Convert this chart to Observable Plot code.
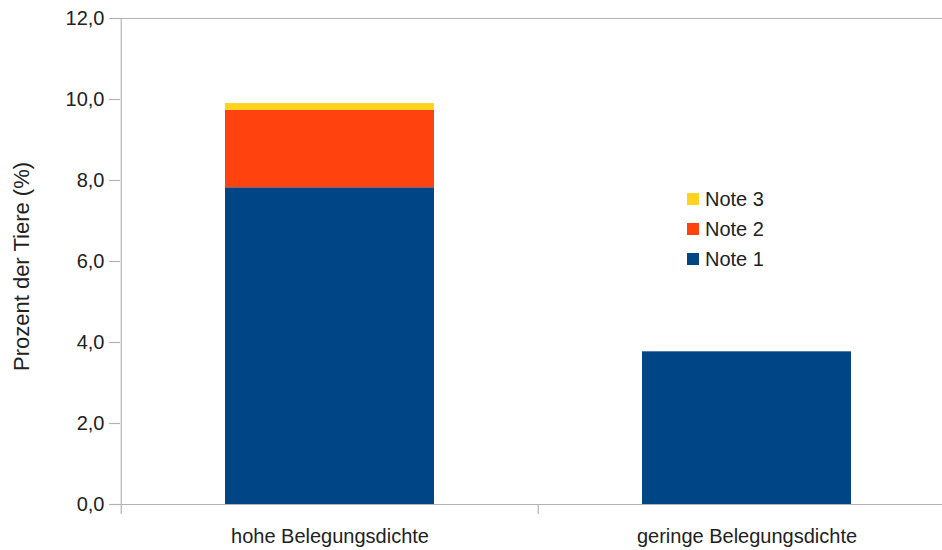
<!DOCTYPE html>
<html>
<head>
<meta charset="utf-8">
<script src="https://cdn.jsdelivr.net/npm/d3@7"></script>
<script src="https://cdn.jsdelivr.net/npm/@observablehq/plot@0.6"></script>
<style>
  html, body { margin: 0; padding: 0; background: #fff; overflow: hidden; }
  #wrap { position: relative; width: 942px; height: 550px; font-family: "Liberation Sans", Arial, sans-serif; }
  #legend { position: absolute; left: 687px; top: 184px; font-size: 20px; color: #222; line-height: 30px; }
  #legend .row { display: flex; align-items: center; }
  #legend .sw { width: 12px; height: 12px; margin-right: 6px; }
</style>
</head>
<body>
<div id="wrap"></div>
<script>
const groups = ["hohe Belegungsdichte", "geringe Belegungsdichte"];
const notes = ["Note 1", "Note 2", "Note 3"];
const note1 = [7.82, 3.77];
const note2 = [1.91, 0];
const note3 = [0.17, 0];
const colors = ["#004586", "#ff420e", "#ffd320"];
const yTicks = [0, 2, 4, 6, 8, 10, 12];

const series = [note1, note2, note3];
const data = [];
groups.forEach((g, i) => notes.forEach((n, j) => data.push({group: g, note: n, value: series[j][i]})));

const W = 942, H = 550, mL = 120, mT = 18, mB = 46;
const xRange = [mL, 955];
const step = (xRange[1] - xRange[0]) / groups.length;
const plotH = H - mT - mB;
const lineColor = "#b3b3b3";
const textColor = "#222";

const chart = Plot.plot({
  width: W,
  height: H,
  marginLeft: mL,
  marginTop: mT,
  marginBottom: mB,
  marginRight: 0,
  style: {fontFamily: "Liberation Sans, Arial, sans-serif", background: "white", overflow: "hidden"},
  x: {domain: groups, range: xRange, paddingInner: 0.5, paddingOuter: 0.25, label: null},
  y: {domain: [0, 12], label: null},
  color: {domain: notes, range: colors},
  marks: [
    Plot.barY(data, {x: "group", y: "value", fill: "note", order: notes}),
    Plot.ruleY([0, 12], {stroke: lineColor, strokeWidth: 1.2}),
    Plot.ruleX([groups[0]], {x: d => d, dx: -step / 2, stroke: lineColor, strokeWidth: 1.2, insetBottom: -10}),
    Plot.ruleX(groups.slice(1), {x: d => d, dx: -step / 2, stroke: lineColor, strokeWidth: 1.2, insetTop: plotH, insetBottom: -10}),
    Plot.axisY({ticks: yTicks, tickFormat: d => d.toFixed(1).replace(".", ","), tickSize: 11, tickPadding: 5,
      fontSize: 20, color: textColor, stroke: lineColor, strokeWidth: 1.2,
      label: "Prozent der Tiere (%)", labelAnchor: "center", labelArrow: "none", labelOffset: 107}),
    Plot.axisX({tickSize: 0, tickPadding: 24, fontSize: 20, color: textColor, label: null})
  ]
});

chart.querySelectorAll("text").forEach(t => {
  if (t.textContent === "Prozent der Tiere (%)") {
    t.setAttribute("font-size", 22);
    t.style.fontSize = "22px";
    t.setAttribute("transform", "translate(0,5) " + (t.getAttribute("transform") || ""));
  }
});

const wrap = document.getElementById("wrap");
wrap.appendChild(chart);

const legend = document.createElement("div");
legend.id = "legend";
notes.slice().reverse().forEach(n => {
  const row = document.createElement("div");
  row.className = "row";
  const sw = document.createElement("span");
  sw.className = "sw";
  sw.style.background = colors[notes.indexOf(n)];
  row.appendChild(sw);
  row.appendChild(document.createTextNode(n));
  legend.appendChild(row);
});
wrap.appendChild(legend);
</script>
</body>
</html>
